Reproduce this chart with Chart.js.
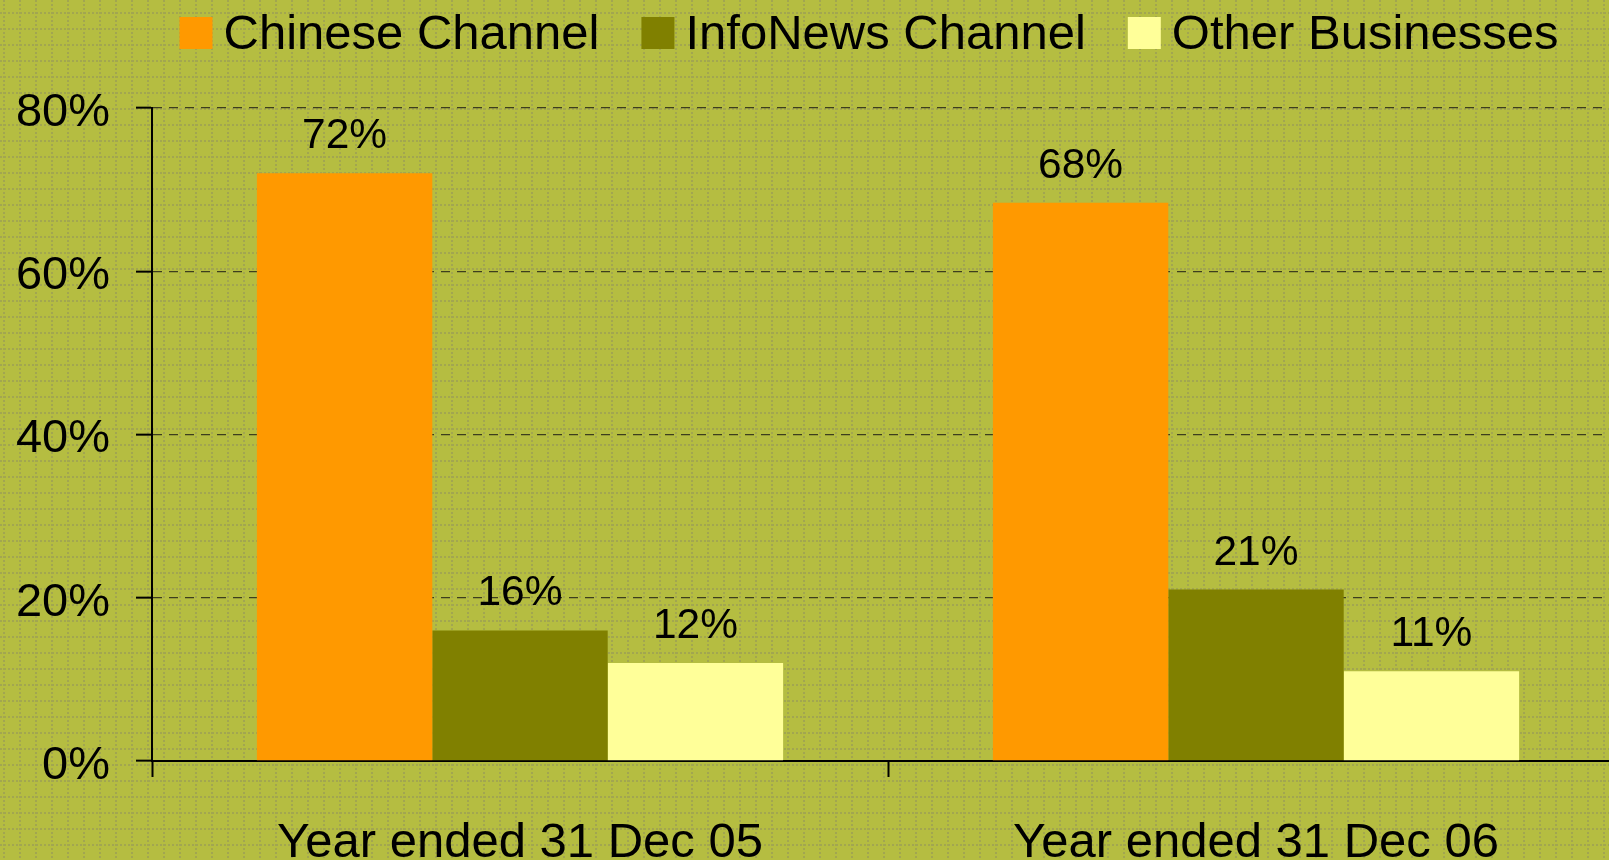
<!DOCTYPE html>
<html>
<head>
<meta charset="utf-8">
<title>Revenue share by business</title>
<script src="https://cdn.jsdelivr.net/npm/chart.js@4.4.1/dist/chart.umd.min.js"></script>
<style>
  html, body {
    margin: 0;
    padding: 0;
    width: 1609px;
    height: 860px;
    overflow: hidden;
    background-color: #b5bd41;
    /* fine dotted grid paper behind the chart */
    background-image: url("data:image/svg+xml,%3Csvg xmlns='http://www.w3.org/2000/svg' width='16' height='16'%3E%3Cpath d='M0 13H16M4 0V16' stroke='%23a2a650' stroke-width='2' stroke-dasharray='2 2'/%3E%3C/svg%3E");
  }
  #wrap {
    position: absolute;
    left: 0;
    top: 0;
    width: 1640px;
    height: 880px;
  }
</style>
</head>
<body>
<div id="wrap"><canvas id="shareChart"></canvas></div>
<script>
// Share of revenue by business, two financial years

const categories = ['Year ended 31 Dec 05', 'Year ended 31 Dec 06'];
const chineseChannel = [72, 68.4];
const infoNewsChannel = [16, 21];
const otherBusinesses = [12, 11];
const yTicks = [0, 20, 40, 60, 80];

const FONT = 'Arial, "Liberation Sans", sans-serif';

// data labels above each bar ("72%")
const barLabels = {
  id: 'barLabels',
  afterDatasetsDraw(chart) {
    const ctx = chart.ctx;
    ctx.save();
    ctx.font = '42.5px ' + FONT;
    ctx.fillStyle = '#000';
    ctx.textAlign = 'center';
    ctx.textBaseline = 'alphabetic';
    chart.data.datasets.forEach((ds, i) => {
      chart.getDatasetMeta(i).data.forEach((bar, j) => {
        ctx.fillText(Math.round(ds.data[j]) + '%', bar.x, bar.y - 25);
      });
    });
    ctx.restore();
  }
};

// legend drawn by hand: small gap between swatch and text
const topLegend = {
  id: 'topLegend',
  afterDraw(chart) {
    const ctx = chart.ctx;
    ctx.save();
    ctx.font = '49px ' + FONT;
    ctx.textBaseline = 'alphabetic';
    ctx.textAlign = 'left';
    let x = 179.5;
    chart.data.datasets.forEach(ds => {
      ctx.fillStyle = ds.backgroundColor;
      ctx.fillRect(x, 17, 33, 32);
      ctx.fillStyle = '#000';
      ctx.fillText(ds.label, x + 44, 49);
      x += 44 + ctx.measureText(ds.label).width + 42;
    });
    ctx.restore();
  }
};

const ctx = document.getElementById('shareChart').getContext('2d');

const chart = new Chart(ctx, {
  type: 'bar',
  data: {
    labels: categories,
    datasets: [
      { label: 'Chinese Channel', data: chineseChannel, backgroundColor: '#ff9900' },
      { label: 'InfoNews Channel', data: infoNewsChannel, backgroundColor: '#808000' },
      { label: 'Other Businesses', data: otherBusinesses, backgroundColor: '#ffff99' }
    ]
  },
  options: {
    responsive: true,
    maintainAspectRatio: false,
    animation: false,
    datasets: {
      bar: { categoryPercentage: 0.715, barPercentage: 1.0, borderWidth: 0 }
    },
    layout: { padding: { top: 108, right: 16, left: 0, bottom: 0 } },
    plugins: {
      legend: { display: false },
      tooltip: { enabled: false }
    },
    scales: {
      x: {
        offset: true,
        grid: {
          offset: true,
          drawOnChartArea: false,
          drawTicks: true,
          tickLength: 16,
          tickColor: '#000',
          tickWidth: 2
        },
        border: { color: '#000', width: 2 },
        ticks: {
          color: '#000',
          padding: 37,
          maxRotation: 0,
          font: { family: FONT, size: 49 }
        },
        afterFit: s => { s.height = 119; }
      },
      y: {
        min: 0,
        max: 80,
        afterBuildTicks: s => { s.ticks = yTicks.map(v => ({ value: v })); },
        grid: {
          color: 'rgba(40,40,25,0.85)',
          lineWidth: 1.3,
          tickLength: 16,
          tickColor: '#000',
          tickWidth: 2
        },
        border: { color: '#000', width: 2, dash: [9, 7] },
        ticks: {
          color: '#000',
          padding: 26,
          labelOffset: 5,
          font: { family: FONT, size: 47 },
          callback: v => v + '%'
        },
        afterFit: s => { s.width = 152; }
      }
    }
  },
  plugins: [barLabels, topLegend]
});
</script>
</body>
</html>
